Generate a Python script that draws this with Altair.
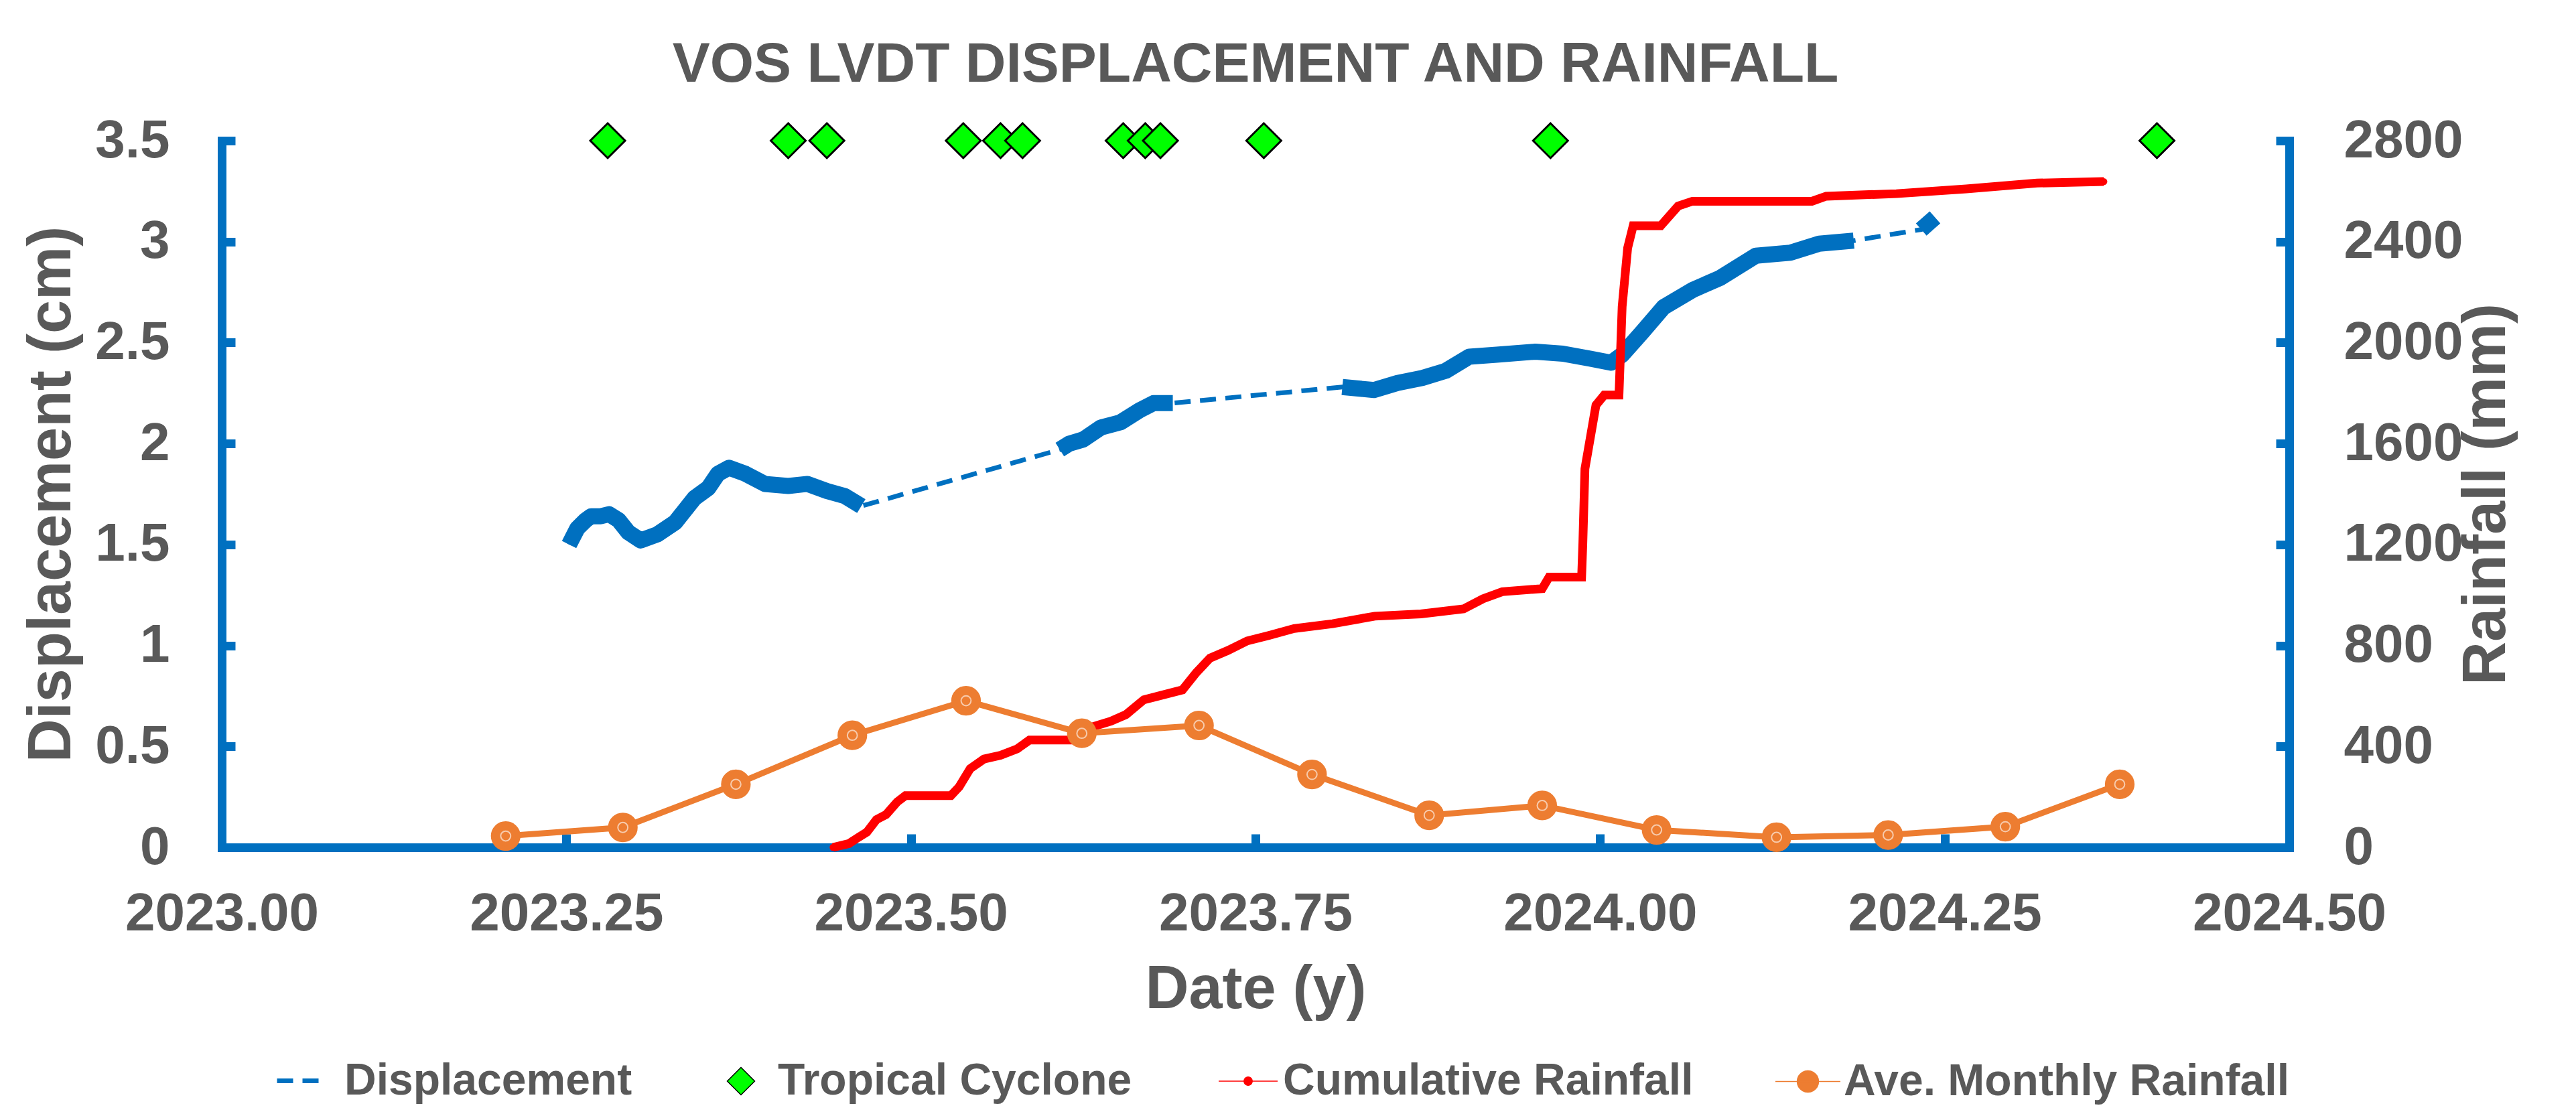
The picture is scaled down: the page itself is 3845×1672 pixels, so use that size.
import math
import altair as alt
import pandas as pd

# ---------------- data ----------------
# Displacement (LVDT), cm — segments of logged data separated by gaps
disp_year = [2023.252, 2023.255, 2023.258, 2023.264, 2023.268, 2023.275, 2023.281, 2023.288,
             2023.295, 2023.304, 2023.316, 2023.329, 2023.343, 2023.353, 2023.360, 2023.368,
             2023.380, 2023.394, 2023.411, 2023.425, 2023.439, 2023.452, 2023.464,
             2023.608, 2023.615, 2023.625, 2023.638, 2023.652, 2023.666, 2023.676, 2023.684, 2023.690,
             2023.813, 2023.836, 2023.853, 2023.871, 2023.888, 2023.905, 2023.925, 2023.953,
             2023.973, 2023.993, 2024.008, 2024.016, 2024.031, 2024.046, 2024.067, 2024.087,
             2024.113, 2024.138, 2024.159, 2024.184,
             2024.233, 2024.238, 2024.243]
disp_cm = [1.50, 1.54, 1.58, 1.62, 1.64, 1.64, 1.65, 1.62,
           1.56, 1.52, 1.55, 1.61, 1.73, 1.78, 1.85, 1.88,
           1.85, 1.80, 1.79, 1.80, 1.765, 1.74, 1.69,
           1.97, 2.00, 2.02, 2.08, 2.105, 2.165, 2.20, 2.20, 2.20,
           2.28, 2.265, 2.30, 2.325, 2.36, 2.43, 2.44, 2.455,
           2.445, 2.42, 2.40, 2.44, 2.555, 2.675, 2.76, 2.82,
           2.93, 2.945, 2.99, 3.005,
           3.06, 3.09, 3.12]
disp_seg = [1] * 23 + [2] * 9 + [3] * 20 + [4] * 3

# Tropical cyclones (plotted along the top of the chart)
cyclone_year = [2023.280, 2023.411, 2023.439, 2023.538, 2023.565, 2023.581,
                2023.654, 2023.670, 2023.681, 2023.756, 2023.964, 2024.404]

# Cumulative rainfall, mm
cum_year = [2023.4435, 2023.455, 2023.462, 2023.468, 2023.475, 2023.482, 2023.490, 2023.496,
            2023.529, 2023.535, 2023.543, 2023.553, 2023.565, 2023.577, 2023.586, 2023.618,
            2023.632, 2023.645, 2023.656, 2023.669, 2023.680, 2023.697, 2023.707, 2023.717,
            2023.730, 2023.744, 2023.760, 2023.778, 2023.806, 2023.8365, 2023.870, 2023.901,
            2023.915, 2023.929, 2023.958, 2023.963, 2023.9866, 2023.9875, 2023.989, 2023.997,
            2024.003, 2024.0137, 2024.016, 2024.020, 2024.024, 2024.044, 2024.0566, 2024.067,
            2024.1537, 2024.164, 2024.215, 2024.2657, 2024.317, 2024.3655]
cum_mm = [0, 15, 40, 60, 110, 130, 180, 205,
          205, 240, 312, 350, 365, 390, 425, 425,
          478, 500, 526, 585, 600, 624, 692, 750,
          780, 818, 840, 867, 886, 916, 925, 945,
          985, 1013, 1025, 1071, 1071, 1208, 1500, 1752,
          1792, 1792, 2142, 2375, 2463, 2463, 2541, 2560,
          2560, 2580, 2590, 2609, 2632, 2638]

# Average monthly rainfall, mm
month_year = [2023.206, 2023.291, 2023.373, 2023.4575, 2023.540, 2023.624, 2023.709, 2023.791,
              2023.876, 2023.958, 2024.041, 2024.128, 2024.209, 2024.294, 2024.377]
month_mm = [45, 79, 250, 444, 581, 452, 483, 289, 127, 166, 69, 40, 49, 82, 250]

x_ticks = [2023.0, 2023.25, 2023.5, 2023.75, 2024.0, 2024.25, 2024.5]
disp_ticks = [0, 0.5, 1, 1.5, 2, 2.5, 3, 3.5]
rain_ticks = [0, 400, 800, 1200, 1600, 2000, 2400, 2800]
series_names = ["Displacement", "Tropical Cyclone", "Cumulative Rainfall", "Ave. Monthly Rainfall"]

# ---------------- styling ----------------
BLUE = "#0070C0"
GREEN = "#00FF00"
RED = "#FF0000"
ORANGE = "#ED7D31"
GREY = "#595959"
FONT = "Liberation Sans"
W, H = 3086, 1055


def circle_path(r, n=24):
    pts = [(r * math.cos(2 * math.pi * i / n), r * math.sin(2 * math.pi * i / n)) for i in range(n)]
    return "M" + "L".join(f"{x:.3f},{y:.3f}" for x, y in pts) + "Z"


DIAMOND = "M0,-0.5L0.5,0L0,0.5L-0.5,0Z"
RED_SYM = "M-1,0L1,0" + circle_path(0.14)
ORANGE_SYM = "M-1,0L1,0" + circle_path(0.33)

disp_df = pd.DataFrame({"year": disp_year, "cm": disp_cm, "seg": disp_seg,
                        "series": [series_names[0]] * len(disp_year)})
cyc_df = pd.DataFrame({"year": cyclone_year, "series": [series_names[1]] * len(cyclone_year)})
cum_df = pd.DataFrame({"year": cum_year, "mm": cum_mm, "series": [series_names[2]] * len(cum_year)})
mon_df = pd.DataFrame({"year": month_year, "mm": month_mm, "series": [series_names[3]] * len(month_year)})

x_scale = alt.Scale(domain=[2023.0, 2024.5], nice=False, zero=False)
yd_scale = alt.Scale(domain=[0, 3.5], nice=False, zero=True)
yr_scale = alt.Scale(domain=[0, 2800], nice=False, zero=True)

lab = dict(labelFont=FONT, labelFontSize=80, labelFontWeight="bold", labelColor=GREY, labelLimit=500)
ttl = dict(titleFont=FONT, titleFontSize=90, titleFontWeight="bold", titleColor=GREY, titleLimit=2000)
dom = dict(domain=True, domainColor=BLUE, domainWidth=13, domainCap="square")
tick_only = dict(labels=False, domain=False, ticks=True, tickSize=20, tickWidth=13,
                 tickColor=BLUE, title=None, grid=False)

x_main_axis = alt.Axis(orient="bottom", values=x_ticks, format=".2f", ticks=False,
                       labelPadding=60, labelFlush=False, labelOverlap=False,
                       title="Date (y)", titlePadding=29, grid=False, **lab, **ttl, **dom)
x_tick_axis = alt.Axis(orient="top", offset=-H, values=x_ticks[1:-1], **tick_only)
yl_main_axis = alt.Axis(orient="left", values=disp_ticks, format="~g", ticks=False,
                        labelPadding=78, labelOverlap=False, title="Displacement (cm)",
                        titlePadding=18, grid=False, **lab, **ttl, **dom)
yl_tick_axis = alt.Axis(orient="right", offset=-W, values=disp_ticks[1:], **tick_only)
yr_main_axis = alt.Axis(orient="right", values=rain_ticks, format="d", ticks=False,
                        labelPadding=81, labelOverlap=False, title="Rainfall (mm)",
                        titleAngle=270, titleBaseline="top", titlePadding=50, grid=False,
                        **lab, **ttl, **dom)
yr_tick_axis = alt.Axis(orient="left", offset=-W, values=rain_ticks[1:], **tick_only)


def legend(x, y, sym_type, sym_px, label_offset, **extra):
    return alt.Legend(title=None, orient="none", legendX=x, legendY=y, padding=0,
                      symbolType=sym_type, symbolSize=sym_px * sym_px, symbolOpacity=1,
                      labelOffset=label_offset, labelFont=FONT, labelFontSize=66,
                      labelFontWeight="bold", labelColor=GREY, labelLimit=1000, **extra)


def color(i, lg):
    return alt.Color("series:N", scale=alt.Scale(domain=[series_names[i]], range=[[BLUE, GREEN, RED, ORANGE][i]]),
                     legend=lg)


X = lambda axis: alt.X("year:Q", scale=x_scale, axis=axis)

disp_dashed = alt.Chart(disp_df).mark_line(strokeWidth=7, strokeDash=[24, 14]).encode(
    x=X(x_main_axis), y=alt.Y("cm:Q", scale=yd_scale, axis=yl_main_axis),
    color=color(0, legend(79, 1369, "stroke", 62, 35, symbolDash=[24, 14], symbolStrokeWidth=7,
                          symbolStrokeColor=BLUE)))
disp_solid = alt.Chart(disp_df).mark_line(color=BLUE, strokeWidth=24, strokeJoin="round").encode(
    x=X(x_tick_axis), y=alt.Y("cm:Q", scale=yd_scale, axis=yl_tick_axis), detail="seg:N")
cyclones = alt.Chart(cyc_df).mark_point(filled=True, opacity=1, shape=DIAMOND, stroke="#000000",
                                        strokeWidth=3, size=104 * 104).encode(
    x=X(None),
    y=alt.YDatum(3.5, type="quantitative", scale=yd_scale, axis=None),
    color=color(1, legend(733, 1362, DIAMOND, 82, 13)),
)
disp_group = alt.layer(disp_dashed, disp_solid, cyclones).resolve_scale(color="independent")

cum_line = alt.Chart(cum_df).mark_line(color=RED, strokeWidth=13).encode(
    x=X(None), y=alt.Y("mm:Q", scale=yr_scale, axis=yr_main_axis))
cum_pts = alt.Chart(cum_df).mark_point(filled=True, opacity=1, shape="circle", stroke=RED,
                                       strokeWidth=4, size=40).encode(
    x=X(None), y=alt.Y("mm:Q", scale=yr_scale, axis=None),
    color=color(2, legend(1487, 1359, RED_SYM, 88, 7)))
mon_line = alt.Chart(mon_df).mark_line(color=ORANGE, strokeWidth=9).encode(
    x=X(None), y=alt.Y("mm:Q", scale=yr_scale, axis=yr_tick_axis))
mon_pts = alt.Chart(mon_df).mark_point(filled=True, opacity=1, shape="circle", stroke=ORANGE,
                                       strokeWidth=7, size=1385).encode(
    x=X(None), y=alt.Y("mm:Q", scale=yr_scale, axis=None),
    color=color(3, legend(2318, 1355, ORANGE_SYM, 97, 4)))
mon_ring = alt.Chart(mon_df).mark_point(filled=False, color="#FFFFFF", opacity=0.6, strokeWidth=2,
                                        size=220).encode(
    x=X(None), y=alt.Y("mm:Q", scale=yr_scale, axis=None))
rain_group = alt.layer(cum_line, cum_pts, mon_line, mon_pts, mon_ring).resolve_scale(color="independent")

chart = alt.layer(disp_group, rain_group).resolve_scale(y="independent", color="independent").properties(
    width=W, height=H,
    title=alt.TitleParams("VOS LVDT DISPLACEMENT AND RAINFALL", font=FONT, fontSize=84,
                          fontWeight="bold", color=GREY, anchor="middle", frame="group",
                          offset=30),
    autosize=alt.AutoSizeParams(type="none"),
    padding={"left": 323, "top": 202, "right": 420, "bottom": 400},
    background="white",
).configure_view(strokeWidth=0).configure_axis(grid=False)

chart.save("out.html", embed_options={"renderer": "svg", "actions": False})
